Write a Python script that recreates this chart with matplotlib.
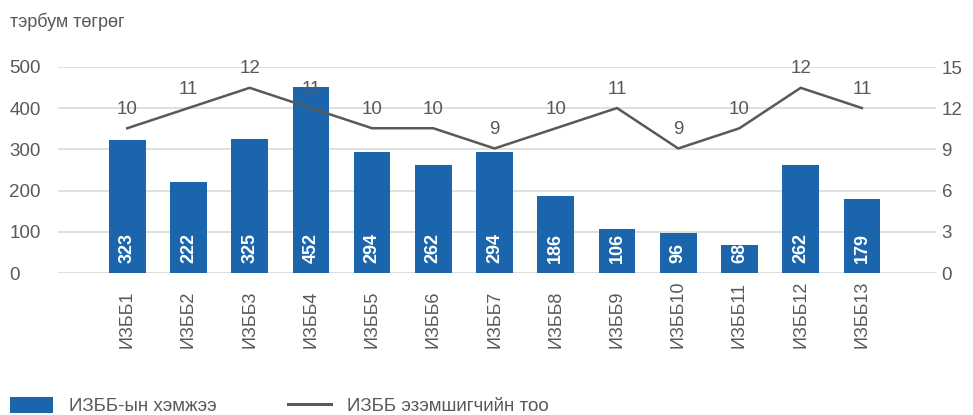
import matplotlib
matplotlib.use("Agg")
import matplotlib.pyplot as plt
from matplotlib.patches import Patch
from matplotlib.lines import Line2D

plt.rcParams['font.family'] = ['Liberation Sans', 'DejaVu Sans']

categories = ["ИЗББ1", "ИЗББ2", "ИЗББ3", "ИЗББ4", "ИЗББ5", "ИЗББ6", "ИЗББ7",
              "ИЗББ8", "ИЗББ9", "ИЗББ10", "ИЗББ11", "ИЗББ12", "ИЗББ13"]
size_values = [323, 222, 325, 452, 294, 262, 294, 186, 106, 96, 68, 262, 179]
holder_counts = [10, 11, 12, 11, 10, 10, 9, 10, 11, 9, 10, 12, 11]
left_ticks = [0, 100, 200, 300, 400, 500]
right_ticks = [0, 3, 6, 9, 12, 15]

unit_label = "тэрбум төгрөг"
bar_name = "ИЗББ-ын хэмжээ"
line_name = "ИЗББ эзэмшигчийн тоо"

BAR = "#1A65AC"
LINE = "#595959"
TXT = "#595959"
GRID = "#D9D9D9"

W, H = 973, 415
fig = plt.figure(figsize=(W / 100, H / 100), dpi=100)
L, R, B, T = 58, 936, 273, 67
ax = fig.add_axes([L / W, 1 - B / H, (R - L) / W, (B - T) / H])

x = list(range(len(categories)))
ax.bar(x, size_values, width=0.6, color=BAR, zorder=2)
ax.set_ylim(0, 500)
ax.set_xlim(-1.13, len(categories) - 1 + 1.21)
ax.set_yticks(left_ticks)
ax.set_yticklabels([str(v) for v in left_ticks])
ax.grid(axis='y', color=GRID, linewidth=1.2, zorder=0)
ax.set_axisbelow(True)
for s in ax.spines.values():
    s.set_visible(False)
ax.tick_params(axis='y', length=0, labelsize=13.5, labelcolor=TXT, pad=35)
for lbl in ax.get_yticklabels():
    lbl.set_horizontalalignment('left')

ax.set_xticks(x)
ax.set_xticklabels(categories, rotation=90, va='bottom', ha='center')
ax.tick_params(axis='x', length=0, labelsize=13, labelcolor=TXT, pad=54)

for xi, v in zip(x, size_values):
    ax.annotate(str(v), (xi, 0), xytext=(0, 7), textcoords='offset points',
                rotation=90, ha='center', va='bottom', color='white',
                fontsize=13, fontweight='bold', zorder=4)

# right axis with displayed ticks
axr = ax.twinx()
axr.set_ylim(0, 15)
axr.set_yticks(right_ticks)
axr.set_yticklabels([str(v) for v in right_ticks])
axr.tick_params(axis='y', length=0, labelsize=13.5, labelcolor=TXT, pad=4)
for s in axr.spines.values():
    s.set_visible(False)

# line axis (scale as in the reference)
axl = ax.twinx()
axl.set_ylim(2.84, 13.03)
axl.axis('off')
axl.plot(x, holder_counts, color=LINE, linewidth=1.8, zorder=3)
for xi, v in zip(x, holder_counts):
    axl.annotate(str(v), (xi, v), xytext=(0, 7.5), textcoords='offset points',
                 ha='center', va='bottom', color=TXT, fontsize=13.5)

fig.text(10 / W, 1 - 22 / H, unit_label, ha='left', va='center',
         fontsize=13, color=TXT)

handles = [Patch(facecolor=BAR, edgecolor='none'),
           Line2D([0], [0], color=LINE, linewidth=2.2)]
fig.legend(handles, [bar_name, line_name], loc='center left',
           bbox_to_anchor=(10 / W, 1 - 406 / H), ncol=2, frameon=False,
           fontsize=13.5, labelcolor=TXT, handlelength=2.3, handleheight=1.0,
           handletextpad=0.85, columnspacing=3.8, borderpad=0, borderaxespad=0)

fig.savefig("out.png", dpi=100)
